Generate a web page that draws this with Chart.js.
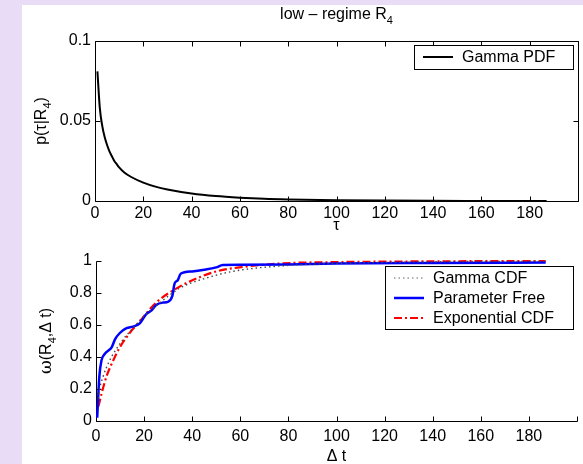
<!DOCTYPE html>
<html>
<head>
<meta charset="utf-8">
<script src="https://cdn.jsdelivr.net/npm/chart.js@4.4.0/dist/chart.umd.min.js"></script>
<style>
  html, body { margin: 0; padding: 0; }
  body { width: 583px; height: 464px; background: #e8dcf6; position: relative; overflow: hidden; }
  #sheet { position: absolute; left: 22px; top: 5px; width: 561px; height: 459px; background: #fff; }
  .box { position: absolute; left: 0; width: 583px; height: 232px; }
  #top { top: 0; }
  #bottom { top: 232px; }
</style>
</head>
<body>
<div id="sheet"></div>
<div class="box" id="top"><canvas id="pdfChart" width="583" height="232"></canvas></div>
<div class="box" id="bottom"><canvas id="cdfChart" width="583" height="232"></canvas></div>
<script>
// Dados
const pdfTau = [1, 2, 3, 4, 5, 6, 7, 8, 9, 10, 12, 15, 20, 25, 30, 40, 50, 60, 70, 80, 100, 120, 140, 160, 187];
const pdfGamma = [0.081, 0.058, 0.047, 0.040, 0.035, 0.031, 0.028, 0.025, 0.023, 0.021, 0.018, 0.015, 0.0115, 0.009, 0.0072, 0.0047, 0.0031, 0.0021, 0.0014, 0.001, 0.0005, 0.00025, 0.00012, 0.00006, 0.00002];

const freeDt = [0.5, 1.4, 2.3, 3.7, 5.1, 6.5, 7.9, 9.9, 12.7, 15.4, 18.2, 19.6, 21, 23, 25, 27.8, 29.9, 31.7, 32.7, 34, 35.2, 40, 45, 50, 52.7, 60, 80, 100, 140, 187];
const freeCdf = [0.02, 0.28, 0.38, 0.42, 0.44, 0.46, 0.51, 0.55, 0.58, 0.59, 0.61, 0.64, 0.67, 0.69, 0.725, 0.74, 0.745, 0.78, 0.86, 0.88, 0.92, 0.935, 0.945, 0.96, 0.975, 0.976, 0.978, 0.985, 0.988, 0.99];

const expDt = [1, 2.3, 4.4, 7.2, 9.9, 14, 17.5, 25, 34.8, 41.7, 50, 59.6, 77.5, 100, 130, 160, 187];
const expCdf = [0.09, 0.17, 0.28, 0.38, 0.46, 0.55, 0.61, 0.74, 0.84, 0.89, 0.935, 0.96, 0.985, 0.993, 0.997, 0.999, 1.0];

const gammaDt = [1, 1.4, 3, 5.1, 7.2, 11.3, 15.4, 19.6, 25, 34.8, 43, 56.8, 77.5, 100, 130, 160, 187];
const gammaCdf = [0.14, 0.19, 0.28, 0.36, 0.42, 0.51, 0.58, 0.65, 0.72, 0.83, 0.88, 0.935, 0.97, 0.985, 0.993, 0.997, 0.998];

const xTicksMax = 200;
const FONT = 'Liberation Sans, Arial, Helvetica, sans-serif';

const pts = (xs, ys) => xs.map((x, i) => ({ x: x, y: ys[i] }));

// Texto com subscrito
function drawParts(ctx, parts, cx, baseY) {
    let w = 0;
    parts.forEach(p => { ctx.font = p.font; w += ctx.measureText(p.t).width; });
    let x = cx - w / 2;
    parts.forEach(p => {
        ctx.font = p.font;
        ctx.fillText(p.t, x, baseY + (p.dy || 0));
        x += ctx.measureText(p.t).width;
    });
}

// Moldura estilo MATLAB com ticks para dentro
const frame = {
    id: 'frame',
    beforeDatasetsDraw(chart, args, opts) {
        const { ctx, chartArea: a, scales } = chart;
        const L = Math.round(a.left) + 0.5, R = Math.round(a.right) + 0.5;
        const T = Math.round(a.top) + 0.5, B = Math.round(a.bottom) + 0.5;
        const tl = 5;
        ctx.save();
        ctx.strokeStyle = '#000';
        ctx.lineWidth = 1;
        ctx.beginPath();
        ctx.moveTo(L, T); ctx.lineTo(L, B); ctx.lineTo(R, B);
        if (opts.box) { ctx.lineTo(R, T); ctx.lineTo(L, T); }
        scales.x.ticks.forEach(t => {
            const px = Math.round(scales.x.getPixelForValue(t.value)) + 0.5;
            ctx.moveTo(px, B); ctx.lineTo(px, B - tl);
            if (opts.box) { ctx.moveTo(px, T); ctx.lineTo(px, T + tl); }
        });
        scales.y.ticks.forEach(t => {
            const py = Math.round(scales.y.getPixelForValue(t.value)) + 0.5;
            ctx.moveTo(L, py); ctx.lineTo(L + tl, py);
            if (opts.box) { ctx.moveTo(R, py); ctx.lineTo(R - tl, py); }
        });
        ctx.stroke();
        ctx.restore();
    }
};

// Legenda desenhada dentro do gráfico
const boxLegend = {
    id: 'boxLegend',
    afterDraw(chart, args, opts) {
        const { ctx } = chart;
        ctx.save();
        ctx.fillStyle = '#fff';
        ctx.fillRect(opts.x, opts.y, opts.w, opts.h);
        ctx.strokeStyle = '#000';
        ctx.lineWidth = 1;
        ctx.strokeRect(opts.x + 0.5, opts.y + 0.5, opts.w, opts.h);
        opts.order.forEach((di, i) => {
            const ds = chart.data.datasets[di];
            const yy = opts.y + opts.first + i * opts.gap;
            ctx.strokeStyle = ds.legendColor || ds.borderColor;
            ctx.lineWidth = ds.borderWidth;
            ctx.setLineDash(ds.borderDash || []);
            ctx.beginPath();
            ctx.moveTo(opts.x + 9, yy);
            ctx.lineTo(opts.x + 39, yy);
            ctx.stroke();
            ctx.setLineDash([]);
            ctx.fillStyle = '#000';
            ctx.font = '16px ' + FONT;
            ctx.textBaseline = 'middle';
            ctx.fillText(ds.label, opts.x + 48, yy + 1);
        });
        ctx.restore();
    }
};

// Títulos e rótulos dos eixos
const labels = {
    id: 'labels',
    afterDraw(chart, args, opts) {
        const { ctx, chartArea: a } = chart;
        const cx = (a.left + a.right) / 2;
        ctx.save();
        ctx.fillStyle = '#000';
        ctx.textBaseline = 'alphabetic';
        if (opts.title) drawParts(ctx, opts.title, cx, opts.titleY);
        drawParts(ctx, opts.xTitle, cx, opts.xTitleY);
        ctx.translate(opts.yTitleX, (a.top + a.bottom) / 2);
        ctx.rotate(-Math.PI / 2);
        drawParts(ctx, opts.yTitle, 0, 0);
        ctx.restore();
    }
};

function xScale(pad) {
    return {
        type: 'linear', min: 0, max: xTicksMax,
        ticks: {
            stepSize: 20, autoSkip: false, maxRotation: 0, padding: pad, color: '#000',
            font: { family: FONT, size: 16 },
            callback: v => v === xTicksMax ? '' : String(v)
        },
        grid: { display: false, drawTicks: false },
        border: { display: false }
    };
}

function yScale(max, step, width) {
    return {
        type: 'linear', min: 0, max: max,
        ticks: {
            stepSize: step, padding: 4, color: '#000', font: { family: FONT, size: 16 },
            callback: v => String(parseFloat(v.toFixed(3)))
        },
        grid: { display: false, drawTicks: false },
        border: { display: false },
        afterFit: s => { s.width = width; }
    };
}

const base = {
    responsive: false,
    animation: false,
    events: [],
    elements: { point: { radius: 0 } }
};

// Gráfico de cima: Gamma PDF
const topX = xScale(3);
topX.afterFit = s => { s.height = 31; };
new Chart(document.getElementById('pdfChart'), {
    type: 'line',
    data: {
        datasets: [{
            label: 'Gamma PDF',
            data: pts(pdfTau, pdfGamma),
            borderColor: '#000', borderWidth: 2,
            cubicInterpolationMode: 'monotone', clip: 4
        }]
    },
    options: Object.assign({}, base, {
        layout: { padding: { left: 0, right: 5, top: 41, bottom: 0 } },
        scales: { x: topX, y: yScale(0.1, 0.05, 95) },
        plugins: {
            legend: { display: false }, tooltip: { enabled: false },
            frame: { box: true },
            boxLegend: { x: 414, y: 45, w: 159, h: 24, first: 12, gap: 0, order: [0] },
            labels: {
                title: [
                    { t: 'low \u2013 regime R', font: '16px ' + FONT },
                    { t: '4', font: '11px ' + FONT, dy: 5 }
                ],
                titleY: 19,
                xTitle: [{ t: '\u03c4', font: '16px ' + FONT }],
                xTitleY: 230,
                yTitleX: 46,
                yTitle: [
                    { t: 'p(\u03c4|R', font: '16px ' + FONT },
                    { t: '4', font: '11px ' + FONT, dy: 5 },
                    { t: ')', font: '16px ' + FONT }
                ]
            }
        }
    }),
    plugins: [frame, boxLegend, labels]
});

// Gráfico de baixo: CDFs
const botX = xScale(6);
botX.afterFit = s => { s.height = 43; };
new Chart(document.getElementById('cdfChart'), {
    type: 'line',
    data: {
        datasets: [
            {
                label: 'Gamma CDF',
                data: pts(gammaDt, gammaCdf),
                borderColor: '#444', legendColor: '#999', borderWidth: 1.4, borderDash: [1.5, 3],
                cubicInterpolationMode: 'monotone', clip: 4
            },
            {
                label: 'Parameter Free',
                data: pts(freeDt, freeCdf),
                borderColor: '#0000ff', borderWidth: 2.5,
                cubicInterpolationMode: 'monotone', clip: 4
            },
            {
                label: 'Exponential CDF',
                data: pts(expDt, expCdf),
                borderColor: '#ff0000', borderWidth: 2.2, borderDash: [8, 3, 2, 3],
                cubicInterpolationMode: 'monotone', clip: 4
            }
        ]
    },
    options: Object.assign({}, base, {
        layout: { padding: { left: 0, right: 5, top: 29, bottom: 0 } },
        scales: { x: botX, y: yScale(1, 0.2, 96) },
        plugins: {
            legend: { display: false }, tooltip: { enabled: false },
            frame: { box: false },
            boxLegend: { x: 385, y: 34, w: 188, h: 63, first: 12, gap: 20, order: [0, 1, 2] },
            labels: {
                xTitle: [{ t: '\u0394 t', font: '16px ' + FONT }],
                xTitleY: 229,
                yTitleX: 51,
                yTitle: [
                    { t: '\u03c9', font: '17px DejaVu Serif, serif' },
                    { t: '(R', font: '16px ' + FONT },
                    { t: '4', font: '11px ' + FONT, dy: 5 },
                    { t: ',\u0394 t)', font: '16px ' + FONT }
                ]
            }
        }
    }),
    plugins: [frame, boxLegend, labels]
});
</script>
</body>
</html>
